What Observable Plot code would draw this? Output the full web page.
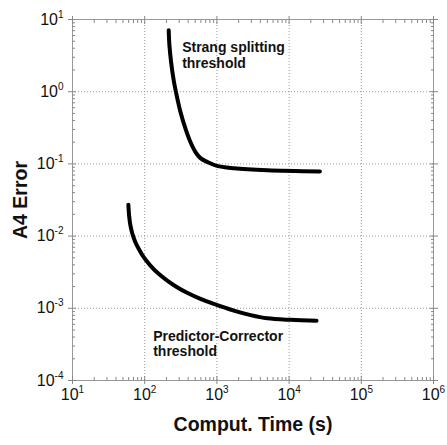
<!DOCTYPE html>
<html><head><meta charset="utf-8">
<script src="https://cdn.jsdelivr.net/npm/d3@7"></script>
<script src="https://cdn.jsdelivr.net/npm/@observablehq/plot@0.6"></script>
<style>
body{margin:0;background:#fff;}
#chart svg{font-family:"Liberation Sans",Arial,sans-serif;}
</style>
</head><body><div id="chart"></div>
<script>
// Strang splitting threshold curve
const strangTime  = [215, 220, 232, 252, 277, 313, 367, 430, 505, 592, 733, 1000, 1716, 4990, 26700];
const strangError = [7.11, 4.40, 2.58, 1.44, 0.891, 0.523, 0.308, 0.2006, 0.1458, 0.1203, 0.1066, 0.0938, 0.0871, 0.0818, 0.0787];
// Predictor-Corrector threshold curve
const pcTime  = [59.4, 60.8, 63.4, 67.5, 74.3, 82.6, 96.8, 120, 156, 205, 281, 387, 592, 906, 1716, 2924, 4990, 10490, 24000];
const pcError = [0.0272, 0.0193, 0.01403, 0.01076, 0.00823, 0.00667, 0.00510, 0.00391, 0.00300, 0.00242, 0.00196, 0.00164, 0.00135, 0.00115, 0.000929, 0.000805, 0.000726, 0.000692, 0.000674];

const xMajor = [1e1, 1e2, 1e3, 1e4, 1e5, 1e6];
const yMajor = [1e-4, 1e-3, 1e-2, 1e-1, 1e0, 1e1];
const minorMult = [2, 3, 4, 5, 6, 7, 8, 9];
const xMinor = xMajor.slice(0, -1).flatMap(d => minorMult.map(m => d * m));
const yMinor = yMajor.slice(0, -1).flatMap(d => minorMult.map(m => d * m));

const annotations = [
  {t: 330, e: 5.05, text: "Strang splitting\nthreshold"},
  {t: 131, e: 0.000507, text: "Predictor-Corrector\nthreshold"}
];

const strang = strangTime.map((t, i) => ({t, e: strangError[i]}));
const pc = pcTime.map((t, i) => ({t, e: pcError[i]}));

const expFmt = d => "E" + Math.round(Math.log10(d));
const blank = () => "";

const chart = Plot.plot({
  width: 447,
  height: 445,
  marginLeft: 72,
  marginRight: 14,
  marginTop: 19,
  marginBottom: 65,
  style: {background: "#fff", fontFamily: "Liberation Sans, Arial, sans-serif"},
  x: {type: "log", domain: [1e1, 1e6]},
  y: {type: "log", domain: [1e-4, 1e1]},
  marks: [
    Plot.gridX(xMajor, {stroke: "#999", strokeOpacity: 1, strokeDasharray: "1,2"}),
    Plot.gridY(yMajor, {stroke: "#999", strokeOpacity: 1, strokeDasharray: "1,2"}),
    Plot.frame({stroke: "#999"}),
    Plot.axisX(xMajor, {anchor: "bottom", tickSize: 4, tickPadding: 4, tickFormat: expFmt, fontSize: 16, label: null, stroke: "#888"}),
    Plot.axisX(xMajor, {anchor: "bottom", tickSize: -4, tickFormat: blank, label: null, stroke: "#888"}),
    Plot.axisX(xMajor, {anchor: "top", tickSize: 4, tickFormat: blank, label: null, stroke: "#888"}),
    Plot.axisX(xMajor, {anchor: "top", tickSize: -4, tickFormat: blank, label: null, stroke: "#888"}),
    Plot.axisX(xMinor, {anchor: "bottom", tickSize: -3, tickFormat: blank, label: null, stroke: "#888"}),
    Plot.axisX(xMinor, {anchor: "top", tickSize: -3, tickFormat: blank, label: null, stroke: "#888"}),
    Plot.axisY(yMajor, {anchor: "left", tickSize: 4, tickPadding: 5, tickFormat: expFmt, fontSize: 16, label: null, stroke: "#888"}),
    Plot.axisY(yMajor, {anchor: "left", tickSize: -4, tickFormat: blank, label: null, stroke: "#888"}),
    Plot.axisY(yMajor, {anchor: "right", tickSize: 4, tickFormat: blank, label: null, stroke: "#888"}),
    Plot.axisY(yMajor, {anchor: "right", tickSize: -4, tickFormat: blank, label: null, stroke: "#888"}),
    Plot.axisY(yMinor, {anchor: "left", tickSize: -3, tickFormat: blank, label: null, stroke: "#888"}),
    Plot.axisY(yMinor, {anchor: "right", tickSize: -3, tickFormat: blank, label: null, stroke: "#888"}),
    Plot.line(strang, {x: "t", y: "e", stroke: "#000", strokeWidth: 4, curve: "catmull-rom"}),
    Plot.line(pc, {x: "t", y: "e", stroke: "#000", strokeWidth: 4, curve: "catmull-rom"}),
    Plot.text(annotations, {x: "t", y: "e", text: "text", textAnchor: "start", lineAnchor: "top", fontSize: 14, fontWeight: "bold", lineHeight: 1.12, fill: "#111"}),
    Plot.text(["A4 Error"], {frameAnchor: "left", dx: -52, rotate: -90, fontSize: 19.5, fontWeight: "bold", textAnchor: "middle", fill: "#111"}),
    Plot.text(["Comput. Time (s)"], {frameAnchor: "bottom", dy: 50, fontSize: 19.5, fontWeight: "bold", textAnchor: "middle", fill: "#111"})
  ]
});

// render tick labels as 10 with superscript exponent
chart.querySelectorAll("text").forEach(el => {
  const s = el.textContent;
  if (/^E-?\d+$/.test(s)) {
    const exp = s.slice(1);
    el.textContent = "";
    const base = document.createElementNS("http://www.w3.org/2000/svg", "tspan");
    base.textContent = "10";
    const sup = document.createElementNS("http://www.w3.org/2000/svg", "tspan");
    sup.textContent = exp;
    sup.setAttribute("font-size", "10");
    sup.setAttribute("dy", "-7");
    el.appendChild(base);
    el.appendChild(sup);
    el.setAttribute("fill", "#111");
  }
});

document.getElementById("chart").appendChild(chart);
</script>
</body></html>
